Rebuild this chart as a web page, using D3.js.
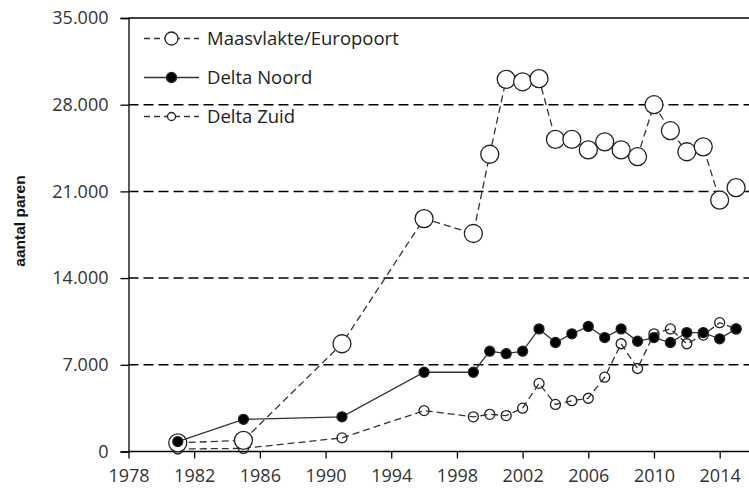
<!DOCTYPE html>
<html lang="nl">
<head>
<meta charset="utf-8">
<title>aantal paren</title>
<script src="https://cdn.jsdelivr.net/npm/d3@7/dist/d3.min.js"></script>
<style>
  html, body { margin: 0; padding: 0; background: #fff; }
  #chart { width: 749px; height: 488px; overflow: hidden; }
</style>
</head>
<body>
<div id="chart"></div>
<script>
// Broedparen per gebied — telling per jaar
const YEARS = [1981, 1985, 1991, 1996, 1999, 2000, 2001, 2002, 2003, 2004, 2005,
               2006, 2007, 2008, 2009, 2010, 2011, 2012, 2013, 2014, 2015];

const MAASVLAKTE = [700, 900, 8700, 18800, 17600, 24000, 30050, 29850, 30100, 25200, 25200,
                    24350, 25000, 24350, 23800, 28000, 25900, 24200, 24600, 20300, 21300];
const DELTA_NOORD = [800, 2600, 2800, 6400, 6400, 8100, 7900, 8100, 9900, 8800, 9500,
                     10100, 9200, 9900, 8900, 9200, 8800, 9600, 9600, 9100, 9900];
const DELTA_ZUID = [200, 250, 1100, 3300, 2800, 3000, 2900, 3500, 5500, 3800, 4100,
                    4300, 6000, 8700, 6700, 9500, 9900, 8700, 9400, 10400, 9900];

const SERIES_NAMES = ['Maasvlakte/Europoort', 'Delta Noord', 'Delta Zuid'];
const X_TICKS = [1978, 1982, 1986, 1990, 1994, 1998, 2002, 2006, 2010, 2014];
const Y_TICKS = [0, 7000, 14000, 21000, 28000, 35000];
const Y_LABEL = 'aantal paren';

(function () {
  'use strict';

  const W = 749, H = 488;
  const FONT = '"Open Sans", Lato, sans-serif';

  const svg = d3.select('#chart').append('svg')
    .attr('width', W).attr('height', H)
    .attr('viewBox', `0 0 ${W} ${H}`);

  const x = d3.scaleLinear().domain([1978, 2016]).range([128.5, 752.5]);
  const y = d3.scaleLinear().domain([0, 35000]).range([451.5, 18]);

  const nl = d3.formatLocale({ decimal: ',', thousands: '.', grouping: [3], currency: ['', ''] });
  const fmt = nl.format(',d');

  // --- gridlines (dashed) ---
  svg.append('g')
    .selectAll('line')
    .data(Y_TICKS.filter(v => v > 0 && v < 35000))
    .join('line')
    .attr('x1', x(1978)).attr('x2', W)
    .attr('y1', d => y(d)).attr('y2', d => y(d))
    .attr('stroke', '#000').attr('stroke-width', 1.5)
    .attr('stroke-dasharray', '10,5');

  // top border
  svg.append('line')
    .attr('x1', x(1978)).attr('x2', W)
    .attr('y1', y(35000)).attr('y2', y(35000))
    .attr('stroke', '#000').attr('stroke-width', 1.3);

  // --- axes ---
  const yAxis = svg.append('g')
    .attr('transform', `translate(${x(1978)},0)`)
    .call(d3.axisLeft(y).tickValues(Y_TICKS).tickFormat(fmt).tickSize(8).tickPadding(12));

  const xAxis = svg.append('g')
    .attr('transform', `translate(0,${y(0)})`)
    .call(d3.axisBottom(x).tickValues(X_TICKS).tickFormat(d3.format('d')).tickSize(7).tickPadding(11));

  [yAxis, xAxis].forEach(ax => {
    ax.select('.domain').attr('stroke', '#000').attr('stroke-width', 1.3);
    ax.selectAll('.tick line').attr('stroke', '#000').attr('stroke-width', 1.3);
    ax.selectAll('text')
      .attr('fill', '#333').attr('font-size', 18).attr('font-family', FONT);
  });
  xAxis.select('.domain').attr('d', `M${x(1978)},0H${W}`);

  // y label
  svg.append('text')
    .attr('transform', 'translate(25,221) rotate(-90)')
    .attr('text-anchor', 'middle')
    .attr('font-family', '"Liberation Sans", Arial, sans-serif')
    .attr('font-weight', 'bold').attr('font-size', 15.5)
    .attr('fill', '#111')
    .text(Y_LABEL);

  // --- series ---
  const series = [
    { name: SERIES_NAMES[2], values: DELTA_ZUID, dash: '7,4', r: 5, lr: 4, fill: 'none' },
    { name: SERIES_NAMES[0], values: MAASVLAKTE, dash: '7,4', r: 9, lr: 6.5, fill: '#fff' },
    { name: SERIES_NAMES[1], values: DELTA_NOORD, dash: null, r: 5, lr: 5, fill: '#000' }
  ];

  const line = d3.line().x(d => x(d[0])).y(d => y(d[1]));

  series.forEach(s => {
    const pts = YEARS.map((yr, i) => [yr, s.values[i]]);
    const g = svg.append('g');

    g.append('path')
      .datum(pts)
      .attr('d', line)
      .attr('fill', 'none')
      .attr('stroke', '#333').attr('stroke-width', 1.3)
      .attr('stroke-dasharray', s.dash);

    g.selectAll('circle')
      .data(pts)
      .join('circle')
      .attr('cx', d => x(d[0])).attr('cy', d => y(d[1]))
      .attr('r', s.r)
      .attr('fill', s.fill)
      .attr('stroke', '#222').attr('stroke-width', 1.3);
  });

  // --- legend ---
  const legendOrder = [series[1], series[2], series[0]];
  const lg = svg.append('g');
  legendOrder.forEach((s, i) => {
    const ly = 38.5 + i * 39;
    lg.append('line')
      .attr('x1', 144).attr('x2', 199).attr('y1', ly).attr('y2', ly)
      .attr('stroke', '#333').attr('stroke-width', 1.3)
      .attr('stroke-dasharray', s.dash ? '6,4' : null);
    lg.append('circle')
      .attr('cx', 171.5).attr('cy', ly).attr('r', s.lr)
      .attr('fill', s.fill === 'none' ? '#fff' : s.fill)
      .attr('stroke', '#222').attr('stroke-width', 1.3);
    lg.append('text')
      .attr('x', 207).attr('y', ly).attr('dy', '0.35em')
      .attr('fill', '#222').attr('font-size', 18.5).attr('font-family', FONT)
      .text(s.name);
  });
})();
</script>
</body>
</html>
